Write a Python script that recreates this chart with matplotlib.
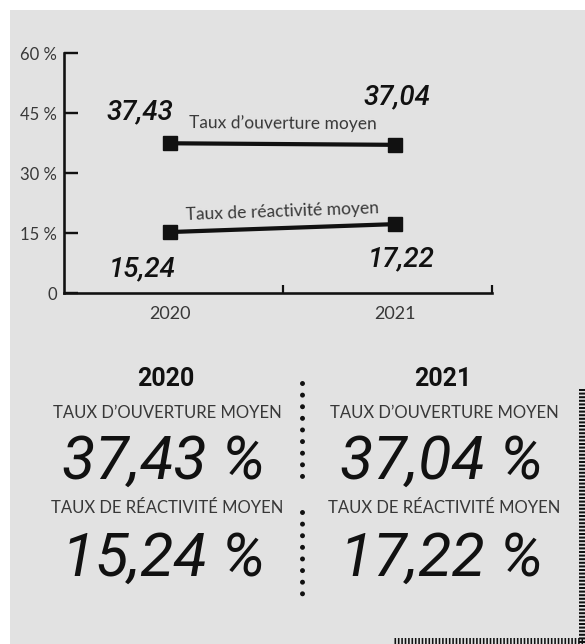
import matplotlib
matplotlib.use("Agg")
import matplotlib.pyplot as plt
from matplotlib import font_manager
from matplotlib.lines import Line2D
from matplotlib.patches import Rectangle
import numpy as np

# ---- data -------------------------------------------------------------
years = ["2020", "2021"]
taux_ouverture = [37.43, 37.04]
taux_reactivite = [15.24, 17.22]
series_names = ["Taux d\u2019ouverture moyen", "Taux de réactivité moyen"]
y_ticks = [0, 15, 30, 45, 60]
y_tick_labels = ["0", "15 %", "30 %", "45 %", "60 %"]
summary_titles = ["TAUX D\u2019OUVERTURE MOYEN", "TAUX DE RÉACTIVITÉ MOYEN"]


def fmt(v):
    return f"{v:.2f}".replace(".", ",")


# ---- fonts ------------------------------------------------------------
available = {f.name for f in font_manager.fontManager.ttflist}


def pick(*names):
    for n in names:
        if n in available:
            return n
    return "DejaVu Sans"


LIGHT = pick("Lato", "Roboto", "Open Sans", "DejaVu Sans")
BOLD = pick("Roboto", "Lato", "DejaVu Sans")
HAND = pick("Roboto", "Lato", "DejaVu Sans")

plt.rcParams["lines.scale_dashes"] = False

W, H = 585, 644
DPI = 100
BG = "#e2e2e2"
INK = "#111111"
GREY_TXT = "#383838"

fig = plt.figure(figsize=(W / DPI, H / DPI), dpi=DPI)
fig.patch.set_facecolor("white")


def fx(x):
    return x / W


def fy(y):
    return 1 - y / H


def px2pt(v):
    return v * 72 / DPI


# grey panel
fig.patches.append(Rectangle((fx(10), 0), 1 - fx(10), fy(10),
                             transform=fig.transFigure, facecolor=BG,
                             edgecolor="none", zorder=-10))

# ---- line chart -------------------------------------------------------
ax = fig.add_axes([fx(64), fy(293), fx(492) - fx(64), fy(53) - fy(293)])
ax.set_facecolor("none")
ax.set_zorder(2)
x = np.arange(len(years))
ax.set_xlim(-0.471, 1.431)
ax.set_ylim(0, 60)

for vals in (taux_ouverture, taux_reactivite):
    ax.plot(x, vals, color=INK, lw=px2pt(4.2), marker="s",
            markersize=px2pt(14.5), solid_capstyle="butt", zorder=3,
            clip_on=False)

for side in ("top", "right"):
    ax.spines[side].set_visible(False)
for side in ("left", "bottom"):
    ax.spines[side].set_linewidth(px2pt(2.6))
    ax.spines[side].set_color(INK)

ax.set_yticks(y_ticks)
ax.set_yticklabels(y_tick_labels, fontfamily=LIGHT, fontweight="normal",
                   fontsize=12, color=GREY_TXT)
ax.tick_params(axis="y", direction="in", length=px2pt(14), width=px2pt(2.4),
               pad=px2pt(7), color=INK)

ax.set_xticks(x)
ax.set_xticklabels(years, fontfamily=LIGHT, fontweight="normal",
                   fontsize=13, color=GREY_TXT)
ax.tick_params(axis="x", which="major", length=0, pad=px2pt(13))
ax.set_xticks([0.5, 1.431], minor=True)
ax.tick_params(axis="x", which="minor", direction="in", length=px2pt(8),
               width=px2pt(2.2), color=INK)

# value labels next to each point (offsets in pixels: dx, dy of baseline)
hand_kw = dict(fontfamily=HAND, fontstyle="italic", fontweight="medium",
               fontsize=20, color=INK, ha="center", va="baseline")
label_offsets = {
    0: [(-30, 24), (2, 40)],
    1: [(-28, -44), (6, -42)],
}
for si, vals in enumerate((taux_ouverture, taux_reactivite)):
    for i, v in enumerate(vals):
        dx, dy = label_offsets[si][i]
        ax.annotate(fmt(v), (x[i], v), xytext=(px2pt(dx), px2pt(dy)),
                    textcoords="offset points", annotation_clip=False,
                    **hand_kw)

# series names above each line, following its slope
for vals, name, lift in zip((taux_ouverture, taux_reactivite), series_names,
                            (21, 16)):
    p0 = ax.transData.transform((x[0], vals[0]))
    p1 = ax.transData.transform((x[1], vals[1]))
    ang = np.degrees(np.arctan2(p1[1] - p0[1], p1[0] - p0[0]))
    ax.annotate(name, (0.5, np.mean(vals)), xytext=(0, px2pt(lift)),
                textcoords="offset points", ha="center", va="center",
                rotation=ang, rotation_mode="anchor",
                fontfamily=LIGHT, fontweight="normal", fontsize=12.5,
                color=GREY_TXT)

# ---- summary block ----------------------------------------------------
col_x = [166, 443]
for ci, year in enumerate(years):
    cx = col_x[ci]
    fig.text(fx(cx), fy(386), year, ha="center", va="baseline",
             fontfamily=BOLD, fontweight="bold", fontsize=18, color=INK)
    for ri, (vals, title) in enumerate(zip((taux_ouverture, taux_reactivite),
                                           summary_titles)):
        fig.text(fx(cx + 1), fy(418 + ri * 95), title, ha="center",
                 va="baseline", fontfamily=LIGHT, fontweight="normal",
                 fontsize=12, color=GREY_TXT)
        fig.text(fx(cx - 2), fy(479 + ri * 97), f"{fmt(vals[ci])} %",
                 ha="center", va="baseline", fontfamily=HAND,
                 fontstyle="italic", fontweight="normal", fontsize=44,
                 color=INK)

# dotted column separator
for y0, y1 in ((383, 477), (512, 604)):
    fig.add_artist(Line2D([fx(302), fx(302)], [fy(y0), fy(y1)],
                          transform=fig.transFigure, color=INK,
                          lw=px2pt(5), dashes=(0.01, px2pt(11.6)),
                          dash_capstyle="round", solid_capstyle="round"))

# comb border, right and bottom edges
fig.add_artist(Line2D([fx(582), fx(582)], [fy(389), fy(644)],
                      transform=fig.transFigure, color=INK, lw=px2pt(6),
                      dashes=(px2pt(2), px2pt(1.6)), dash_capstyle="butt"))
fig.add_artist(Line2D([fx(394), fx(585)], [fy(640.5), fy(640.5)],
                      transform=fig.transFigure, color=INK, lw=px2pt(7),
                      dashes=(px2pt(1.6), px2pt(1.8)), dash_capstyle="butt"))

fig.savefig("out.png", dpi=DPI, facecolor=fig.get_facecolor())
